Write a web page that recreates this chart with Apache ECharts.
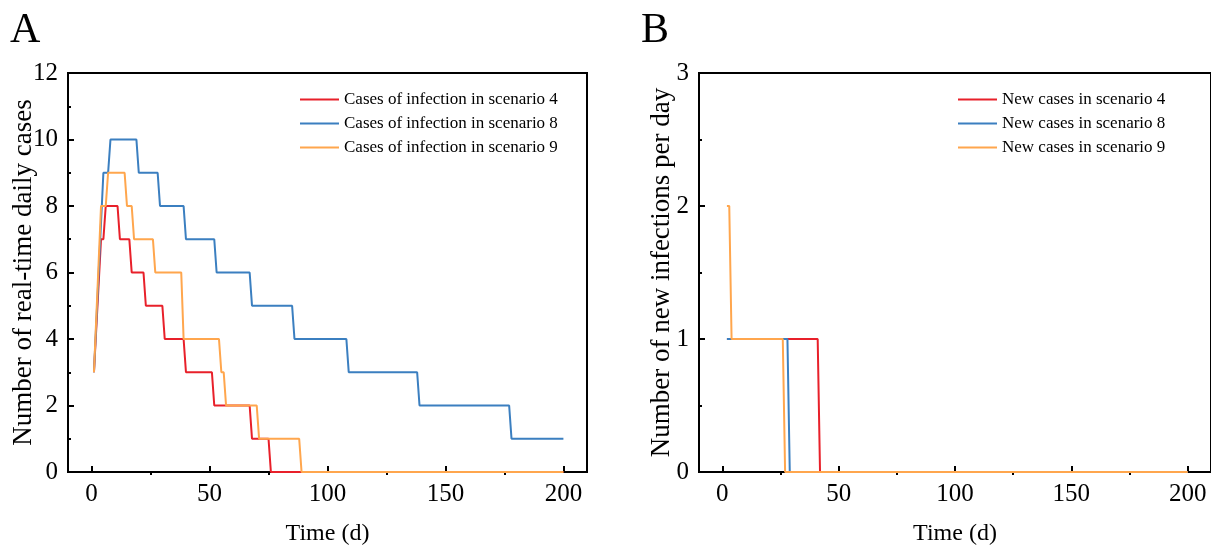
<!DOCTYPE html>
<html>
<head>
<meta charset="utf-8">
<script src="https://cdn.jsdelivr.net/npm/echarts@6/dist/echarts.min.js"></script>
<style>
  html, body { margin: 0; padding: 0; background: #fff; }
  #chart { width: 1211px; height: 555px; }
</style>
</head>
<body>
<div id="chart"></div>
<script>
// [day, value] points where the step lines change
let casesScenario4 = [[1,3],[4,7],[5,7],[6,8],[11,8],[12,7],[16,7],[17,6],[22,6],[23,5],[30,5],[31,4],[39,4],[40,3],[51,3],[52,2],[67,2],[68,1],[75,1],[76,0],[200,0]]
let casesScenario8 = [[1,3],[5,9],[7,9],[8,10],[19,10],[20,9],[28,9],[29,8],[39,8],[40,7],[52,7],[53,6],[67,6],[68,5],[85,5],[86,4],[108,4],[109,3],[138,3],[139,2],[177,2],[178,1],[200,1]]
let casesScenario9 = [[1,3],[4,8],[6,8],[7,9],[14,9],[15,8],[17,8],[18,7],[26,7],[27,6],[38,6],[39,4],[54,4],[55,3],[56,3],[57,2],[70,2],[71,1],[88,1],[89,0],[200,0]]

let newScenario4 = [[2,1],[41,1],[42,0],[200,0]]
let newScenario8 = [[2,1],[28,1],[29,0],[200,0]]
let newScenario9 = [[2,2],[3,2],[4,1],[26,1],[27,0],[200,0]]

let namesA = ['Cases of infection in scenario 4', 'Cases of infection in scenario 8', 'Cases of infection in scenario 9']
let namesB = ['New cases in scenario 4', 'New cases in scenario 8', 'New cases in scenario 9']
let xMajor = [0, 50, 100, 150, 200]
let xMinor = [25, 75, 125, 175]
let colors = ['#e8202a', '#3b7fc0', '#ffa64d']

let font = 'Liberation Serif'

function mainX(grid, name) {
    return {
        type: 'value', gridIndex: grid, min: -10, max: 210,
        name: name, nameLocation: 'middle', nameGap: 50,
        nameTextStyle: { fontFamily: font, fontSize: 24, color: '#000' },
        axisLine: { onZero: false, lineStyle: { color: '#000', width: 2 } },
        axisTick: { inside: true, length: 6, customValues: xMajor, lineStyle: { color: '#000', width: 2 } },
        axisLabel: { customValues: xMajor, margin: 10, fontFamily: font, fontSize: 25, color: '#000' },
        splitLine: { show: false }
    }
}

function minorX(grid) {
    return {
        type: 'value', gridIndex: grid, min: -10, max: 210,
        axisLine: { show: false },
        axisTick: { inside: true, length: 3, customValues: xMinor, lineStyle: { color: '#000', width: 2 } },
        axisLabel: { show: false },
        splitLine: { show: false }
    }
}

function mainY(grid, name, max, interval, gap) {
    return {
        type: 'value', gridIndex: grid, min: 0, max: max, interval: interval,
        name: name, nameLocation: 'middle', nameGap: gap, nameMoveOverlap: false,
        nameTextStyle: { fontFamily: font, fontSize: 27, color: '#000' },
        axisLine: { show: true, onZero: false, lineStyle: { color: '#000', width: 2 } },
        axisTick: { inside: true, length: 6, lineStyle: { color: '#000', width: 2 } },
        minorTick: { show: true, splitNumber: 2, length: 3, lineStyle: { color: '#000', width: 2 } },
        axisLabel: { margin: 10, fontFamily: font, fontSize: 25, color: '#000' },
        splitLine: { show: false }
    }
}

function line(name, data, x, y, color) {
    return {
        type: 'line', name: name, data: data, xAxisIndex: x, yAxisIndex: y,
        symbol: 'none', lineStyle: { color: color, width: 2 }, itemStyle: { color: color }
    }
}

function legend(names, left) {
    return {
        data: names, orient: 'vertical', left: left, top: 86,
        icon: 'rect', itemWidth: 39, itemHeight: 2, itemGap: 7,
        textStyle: { fontFamily: font, fontSize: 17, color: '#000' }
    }
}

let myChart = echarts.init(document.getElementById('chart'))
let option = {
    animation: false,
    title: [
        { text: 'A', left: 5, top: 5, textStyle: { fontFamily: font, fontSize: 42, fontWeight: 'normal', color: '#000' } },
        { text: 'B', left: 636, top: 5, textStyle: { fontFamily: font, fontSize: 42, fontWeight: 'normal', color: '#000' } }
    ],
    legend: [legend(namesA, 295), legend(namesB, 953)],
    grid: [
        { left: 68, top: 73, width: 519, height: 399, show: true, borderColor: '#000', borderWidth: 2 },
        { left: 699, top: 73, width: 521, height: 399, show: true, borderColor: '#000', borderWidth: 2 }
    ],
    xAxis: [mainX(0, 'Time (d)'), minorX(0), mainX(1, 'Time (d)'), minorX(1)],
    yAxis: [
        mainY(0, 'Number of real-time daily cases', 12, 2, 31),
        mainY(1, 'Number of new infections per day', 3, 1, 24)
    ],
    series: [
        line(namesA[0], casesScenario4, 0, 0, colors[0]),
        line(namesA[1], casesScenario8, 0, 0, colors[1]),
        line(namesA[2], casesScenario9, 0, 0, colors[2]),
        line(namesB[0], newScenario4, 2, 1, colors[0]),
        line(namesB[1], newScenario8, 2, 1, colors[1]),
        line(namesB[2], newScenario9, 2, 1, colors[2])
    ]
}
myChart.setOption(option)
</script>
</body>
</html>
